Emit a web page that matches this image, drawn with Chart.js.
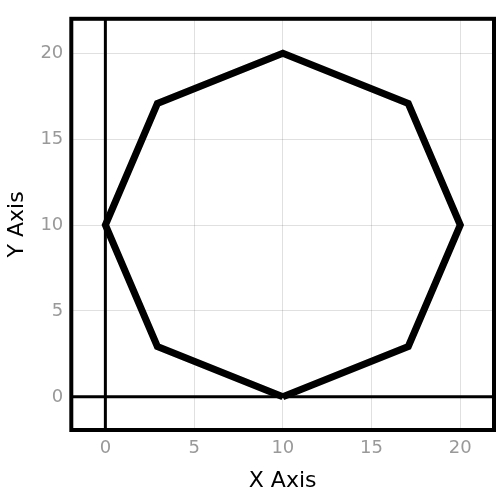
<!DOCTYPE html>
<html>
<head>
<meta charset="utf-8">
<script src="https://cdn.jsdelivr.net/npm/chart.js@4"></script>
<style>
  body { margin: 0; background: #fff; }
</style>
</head>
<body>
<canvas id="chart" width="500" height="500"></canvas>
<script>
// Octagon vertices (closed by repeating the first point)
const polyX = [10, 17.07, 20, 17.07, 10, 2.93, 0, 2.93, 10];
const polyY = [0, 2.93, 10, 17.07, 20, 17.07, 10, 2.93, 0];
const tickValues = [0, 5, 10, 15, 20];
const xRange = [-1.92, 21.9];
const yRange = [-1.93, 22];

const fontFamily = 'DejaVu Sans';

const frame = {
    id: 'frame',
    afterDraw(chart) {
        const a = chart.chartArea, c = chart.ctx;
        c.save();
        c.strokeStyle = '#000';
        c.lineWidth = 4;
        c.strokeRect(a.left, a.top, a.right - a.left, a.bottom - a.top);
        c.restore();
    }
};

function fixedTicks(scale) {
    scale.ticks = tickValues.map(v => ({ value: v }));
}

new Chart(document.getElementById('chart'), {
    type: 'scatter',
    data: {
        datasets: [
            {
                data: [{ x: 0, y: yRange[0] }, { x: 0, y: yRange[1] }],
                showLine: true, borderColor: '#000', borderWidth: 3, pointRadius: 0
            },
            {
                data: [{ x: xRange[0], y: 0 }, { x: xRange[1], y: 0 }],
                showLine: true, borderColor: '#000', borderWidth: 3, pointRadius: 0
            },
            {
                data: polyX.map((x, i) => ({ x: x, y: polyY[i] })),
                showLine: true, borderColor: '#000', borderWidth: 7,
                pointRadius: 0, borderJoinStyle: 'miter'
            }
        ]
    },
    options: {
        responsive: false,
        animation: false,
        layout: { padding: { top: 0, right: 6, left: 0, bottom: 2 } },
        plugins: { legend: { display: false }, tooltip: { enabled: false } },
        scales: {
            x: {
                min: xRange[0], max: xRange[1],
                afterBuildTicks: fixedTicks,
                grid: { color: 'rgba(0,0,0,0.12)', drawTicks: false },
                border: { display: false },
                ticks: { color: '#999', font: { family: fontFamily, size: 18 }, padding: 8 },
                title: { display: true, text: 'X Axis', color: '#000', font: { family: fontFamily, size: 22 }, padding: { top: 0 } }
            },
            y: {
                min: yRange[0], max: yRange[1],
                afterBuildTicks: fixedTicks,
                grid: { color: 'rgba(0,0,0,0.12)', drawTicks: false },
                border: { display: false },
                ticks: { color: '#999', font: { family: fontFamily, size: 18 }, padding: 8 },
                title: { display: true, text: 'Y Axis', color: '#000', font: { family: fontFamily, size: 22 }, padding: { bottom: 2 } }
            }
        }
    },
    plugins: [frame]
});
</script>
</body>
</html>
